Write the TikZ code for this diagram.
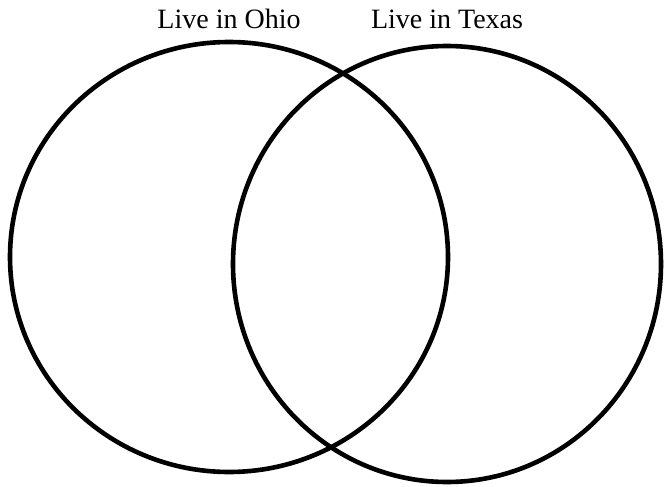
\documentclass[tikz,border=0pt]{standalone}
\usepackage{fontspec}
\setmainfont{Liberation Serif}
\usetikzlibrary{positioning}

\begin{document}
\begin{tikzpicture}[
    x=0.5pt, y=-0.5pt,
    set/.style={draw, line width=2.3pt},
    lbl/.style={font=\fontsize{14}{16}\selectfont, inner sep=0pt, anchor=base}
]
\useasboundingbox (0,0) rectangle (665,487);
\draw[set] (229,257) ellipse [x radius=219, y radius=215];
\draw[set] (447,264) ellipse [x radius=214, y radius=218];
\node[lbl] (ohio) at (229,28) {Live in Ohio};
\node[lbl] (texas) at (447,28) {Live in Texas};
\end{tikzpicture}
\end{document}
